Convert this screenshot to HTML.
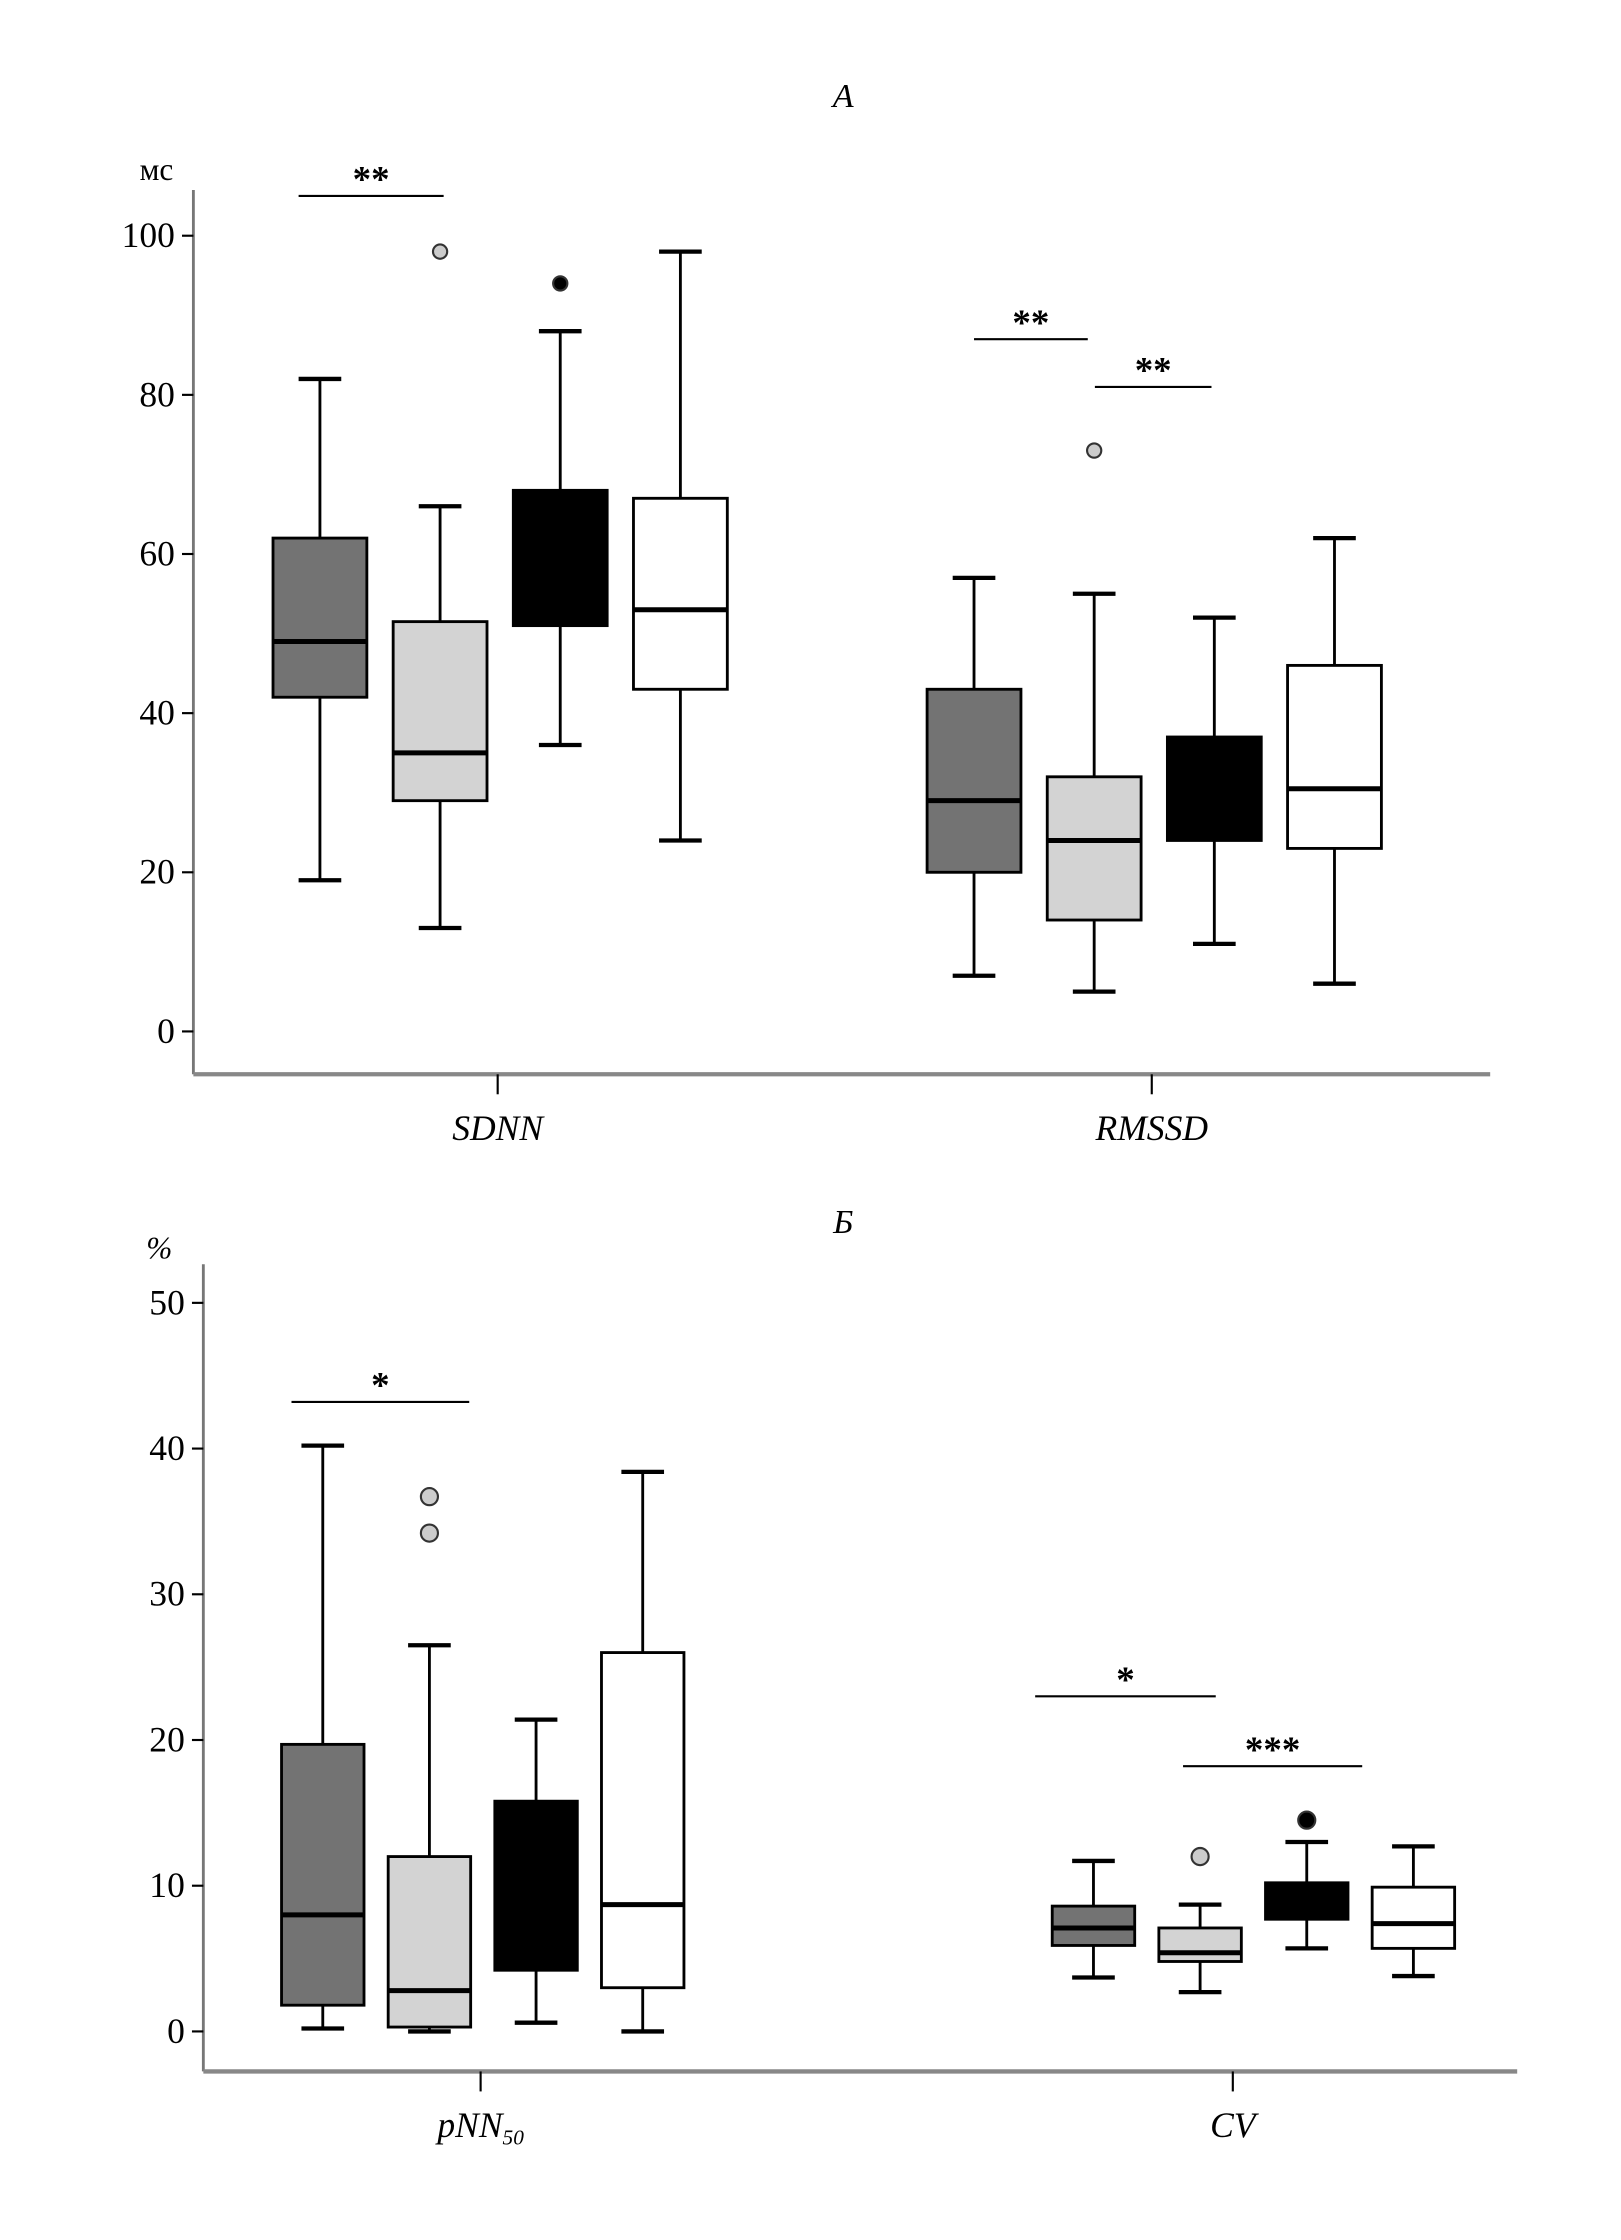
<!DOCTYPE html>
<html><head><meta charset="utf-8"><style>
html,body{margin:0;padding:0;background:#fff;}
svg{display:block;}
text{font-family:"Liberation Serif",serif;fill:#000;}
</style></head><body>
<svg id="chart" width="1621" height="2240" viewBox="0 0 1140 1568" preserveAspectRatio="none" xmlns="http://www.w3.org/2000/svg">
<text x="593" y="75" font-size="24" font-style="italic" text-anchor="middle">А</text>
<text x="110" y="126" font-size="22" text-anchor="middle">мс</text>
<text x="593" y="863" font-size="24" font-style="italic" text-anchor="middle">Б</text>
<text x="112" y="881" font-size="22" font-style="italic" text-anchor="middle">%</text>
<g id="ga"></g><g id="gb"></g>
</svg>
<script>
// Panel A data (ms)
const catsA = ["SDNN","RMSSD"];
const ticksA = [0,20,40,60,80,100];
const minA = [[19,13,36,24],[7,5,11,6]];
const q1A = [[42,29,51,43],[20,14,24,23]];
const medA = [[49,35,null,53],[29,24,null,30.5]];
const q3A = [[62,51.5,68,67],[43,32,37,46]];
const maxA = [[82,66,88,98],[57,55,52,62]];
const outA = [[[],[98],[94],[]],[[],[73],[],[]]];
const sigLabelsA = ["**","**","**"];
const sigLevelsA = [105,87,81];
// Panel B data (%)
const catsB = ["pNN50","CV"];
const ticksB = [0,10,20,30,40,50];
const minB = [[0.2,0,0.6,0],[3.7,2.7,5.7,3.8]];
const q1B = [[1.8,0.3,4.2,3],[5.9,4.8,7.7,5.7]];
const medB = [[8,2.8,null,8.7],[7.1,5.4,null,7.4]];
const q3B = [[19.7,12,15.8,26],[8.6,7.1,10.2,9.9]];
const maxB = [[40.2,26.5,21.4,38.4],[11.7,8.7,13,12.7]];
const outB = [[[],[34.2,36.7],[],[]],[[],[12],[14.5],[]]];
const sigLabelsB = ["*","*","***"];
const sigLevelsB = [43.2,23.0,18.2];

const fills=["#737373","#d3d3d3","#000","#fff"];
const NS="http://www.w3.org/2000/svg";
function mk(p,t,a){const e=document.createElementNS(NS,t);for(const k in a)e.setAttribute(k,a[k]);p.appendChild(e);return e;}

function draw(g,cfg){
  const y=v=>cfg.y0-v*cfg.ppu;
  const ax=mk(g,"line",{x1:cfg.ax,y1:cfg.axTop,x2:cfg.ax,y2:cfg.axB,stroke:"#777","stroke-width":2});
  
  
  const bx=mk(g,"line",{x1:cfg.ax,y1:cfg.axB,x2:cfg.axR,y2:cfg.axB,stroke:"#888","stroke-width":3});
  
  
  cfg.ticks.forEach(t=>{
    mk(g,"line",{x1:cfg.ax-8,y1:y(t),x2:cfg.ax,y2:y(t),stroke:"#000","stroke-width":1.5});
    const tx=mk(g,"text",{x:cfg.ax-13,y:y(t)+8,"font-size":25,"text-anchor":"end"});
    tx.textContent=t;
    
    
  });
  cfg.cats.forEach((c,ci)=>{
    mk(g,"line",{x1:cfg.tickX[ci],y1:cfg.axB,x2:cfg.tickX[ci],y2:cfg.axB+14,stroke:"#000","stroke-width":1.5});
    const lt=mk(g,"text",{x:cfg.tickX[ci],y:cfg.axB+46,"font-size":25,"font-style":"italic","text-anchor":"middle"});
    if(c==="pNN50"){lt.innerHTML='pNN<tspan font-size="15" dy="5">50</tspan>';}else lt.textContent=c;
    
    
    for(let k=0;k<4;k++){
      const x=cfg.catX[ci]+k*cfg.step, w=cfg.bw, cw=15;
      const grp=mk(g,"g",{});
      
      
      mk(grp,"line",{x1:x,y1:y(cfg.mx[ci][k]),x2:x,y2:y(cfg.q3[ci][k]),stroke:"#000","stroke-width":2});
      mk(grp,"line",{x1:x,y1:y(cfg.q1[ci][k]),x2:x,y2:y(cfg.mn[ci][k]),stroke:"#000","stroke-width":2});
      mk(grp,"line",{x1:x-cw,y1:y(cfg.mx[ci][k]),x2:x+cw,y2:y(cfg.mx[ci][k]),stroke:"#000","stroke-width":3});
      mk(grp,"line",{x1:x-cw,y1:y(cfg.mn[ci][k]),x2:x+cw,y2:y(cfg.mn[ci][k]),stroke:"#000","stroke-width":3});
      mk(grp,"rect",{x:x-w/2,y:y(cfg.q3[ci][k]),width:w,height:y(cfg.q1[ci][k])-y(cfg.q3[ci][k]),fill:fills[k],stroke:"#000","stroke-width":2});
      if(cfg.md[ci][k]!==null) mk(grp,"line",{x1:x-w/2,y1:y(cfg.md[ci][k]),x2:x+w/2,y2:y(cfg.md[ci][k]),stroke:"#000","stroke-width":3.5});
      cfg.out[ci][k].forEach(o=>{
        const ci2=mk(grp,"circle",{cx:x,cy:y(o),r:cfg.r,fill:k===2?"#000":"#ccc",stroke:"#333","stroke-width":1.5});
        
        
      });
    }
  });
  cfg.sigLabels.forEach((s,i)=>{
    const x1=cfg.sigX[i][0], x2=cfg.sigX[i][1], yy=y(cfg.sigLevels[i]);
    const l=mk(g,"line",{x1:x1,y1:yy,x2:x2,y2:yy,stroke:"#000","stroke-width":1.5});
    
    
    const t=mk(g,"text",{x:(x1+x2)/2,y:yy-3,"font-size":26,"font-weight":"bold","text-anchor":"middle"});
    t.textContent=s;
    
    
  });
}
draw(document.getElementById("ga"),{y0:722,ppu:5.57,ax:136,axTop:133,axB:752,axR:1048,ticks:ticksA,cats:catsA,
  catX:[225,685],tickX:[350,810],step:84.5,bw:66,r:5,mn:minA,q1:q1A,md:medA,q3:q3A,mx:maxA,out:outA,
  sigLabels:sigLabelsA,sigLevels:sigLevelsA,sigX:[[210,312],[685,765],[770,852]]});
draw(document.getElementById("gb"),{y0:1422,ppu:10.2,ax:143,axTop:885,axB:1450,axR:1067,ticks:ticksB,cats:catsB,
  catX:[227,769],tickX:[338,867],step:75,bw:58,r:6,mn:minB,q1:q1B,md:medB,q3:q3B,mx:maxB,out:outB,
  sigLabels:sigLabelsB,sigLevels:sigLevelsB,sigX:[[205,330],[728,855],[832,958]]});
</script>
</body></html>
